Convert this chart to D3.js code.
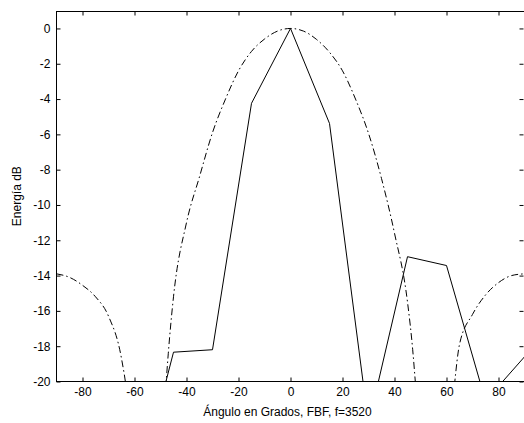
<!DOCTYPE html>
<html>
<head>
<meta charset="utf-8">
<script src="https://cdn.jsdelivr.net/npm/d3@7"></script>
<style>
  html, body { margin: 0; padding: 0; background: #fff; }
  svg { display: block; }
  text { font-family: "Liberation Sans", Arial, sans-serif; font-size: 12px; fill: #000; }
</style>
</head>
<body>
<svg id="chart" width="524" height="423"></svg>
<script>
// Measured FBF beam response (solid line), sampled every 15 degrees
const fbfAngles = [-90, -75, -60, -45, -30, -15, 0, 15, 30, 45, 60, 75, 90];
const fbfEnergy = [-28, -30, -26.9, -18.34, -18.2, -4.24, 0, -5.38, -22.4, -12.93, -13.43, -21.1, -18.6];

// Reference beam pattern (dash-dot line)
const refAngles = [-90, -85, -80, -75, -70, -65, -63, -60, -55, -50, -48, -47, -45, -40, -35, -30, -25, -20, -15, -10, -5, 0,
                   5, 10, 15, 20, 25, 30, 35, 40, 45, 47, 48, 50, 55, 60, 63, 65, 70, 75, 80, 85, 90];
const refEnergy = [-13.9, -14.1, -14.55, -15.2, -16.3, -18.7, -20.6, -26, -38, -25, -20.4, -18.4, -15.2, -11.0, -8.4, -5.9, -4.0, -2.4, -1.3, -0.6, -0.15, 0,
                   -0.15, -0.62, -1.35, -2.4, -4.0, -5.94, -8.5, -11.6, -15.5, -18.2, -20.0, -24, -38, -26, -20.3, -17.9, -16.2, -15.1, -14.4, -14.0, -13.9];

const xTicks = [-80, -60, -40, -20, 0, 20, 40, 60, 80];
const xTickLabels = ["-80", "-60", "-40", "-20", "0", "20", "40", "60", "80"];
const yTicks = [-20, -18, -16, -14, -12, -10, -8, -6, -4, -2, 0];
const yTickLabels = ["-20", "-18", "-16", "-14", "-12", "-10", "-8", "-6", "-4", "-2", "0"];

const xLabel = "Ángulo en Grados, FBF, f=3520";
const yLabel = "Energía dB";

const svg = d3.select("#chart");
const plotLeft = 56.5, plotRight = 524.5, plotTop = 10.8, plotBottom = 381.5;

const x = d3.scaleLinear().domain([-90, 90]).range([plotLeft, plotRight]);
const y = d3.scaleLinear().domain([-20, 1]).range([plotBottom, plotTop]);

svg.append("defs").append("clipPath").attr("id", "plot-clip")
  .append("rect")
  .attr("x", plotLeft).attr("y", plotTop)
  .attr("width", plotRight - plotLeft).attr("height", plotBottom - plotTop);

const plot = svg.append("g").attr("clip-path", "url(#plot-clip)");

plot.append("path")
  .datum(d3.zip(refAngles, refEnergy))
  .attr("fill", "none")
  .attr("stroke", "#000")
  .attr("stroke-width", 1)
  .attr("stroke-dasharray", "7,3,1.5,3")
  .attr("d", d3.line().x(d => x(d[0])).y(d => y(d[1])).curve(d3.curveMonotoneX));

plot.append("path")
  .datum(d3.zip(fbfAngles, fbfEnergy))
  .attr("fill", "none")
  .attr("stroke", "#000")
  .attr("stroke-width", 1)
  .attr("d", d3.line().x(d => x(d[0])).y(d => y(d[1])));

// Axes with inward ticks on all four sides
const fmt = (labels, values) => v => labels[values.indexOf(v)];

svg.append("g")
  .attr("transform", `translate(0,${plotBottom})`)
  .call(d3.axisBottom(x).tickValues(xTicks).tickFormat(fmt(xTickLabels, xTicks))
        .tickSizeInner(-4).tickSizeOuter(0).tickPadding(6))
  .call(g => g.select(".domain").remove());

svg.append("g")
  .attr("transform", `translate(0,${Math.round(plotTop) + 0.5})`)
  .call(d3.axisTop(x).tickValues(xTicks).tickFormat("").tickSizeInner(-4).tickSizeOuter(0))
  .call(g => g.select(".domain").remove());

svg.append("g")
  .attr("transform", `translate(${plotLeft},0)`)
  .call(d3.axisLeft(y).tickValues(yTicks).tickFormat(fmt(yTickLabels, yTicks))
        .tickSizeInner(-4).tickSizeOuter(0).tickPadding(6))
  .call(g => g.select(".domain").remove());

svg.append("g")
  .attr("transform", `translate(${plotRight - 1},0)`)
  .call(d3.axisRight(y).tickValues(yTicks).tickFormat("").tickSizeInner(-4).tickSizeOuter(0))
  .call(g => g.select(".domain").remove());

svg.selectAll(".tick text").style("font-family", "'Liberation Sans', Arial, sans-serif").style("font-size", "12px").attr("fill", "#000");
svg.selectAll(".tick line").attr("stroke", "#000");

// Axes box
svg.append("rect")
  .attr("x", plotLeft).attr("y", Math.round(plotTop) + 0.5)
  .attr("width", plotRight - plotLeft).attr("height", plotBottom - Math.round(plotTop) - 0.5)
  .attr("fill", "none").attr("stroke", "#000").attr("stroke-width", 1);

svg.append("text")
  .attr("x", (plotLeft + plotRight) / 2 - 3).attr("y", 416)
  .attr("text-anchor", "middle")
  .text(xLabel);

svg.append("text")
  .attr("transform", `translate(21,${(plotTop + plotBottom) / 2}) rotate(-90)`)
  .attr("text-anchor", "middle")
  .text(yLabel);
</script>
</body>
</html>
